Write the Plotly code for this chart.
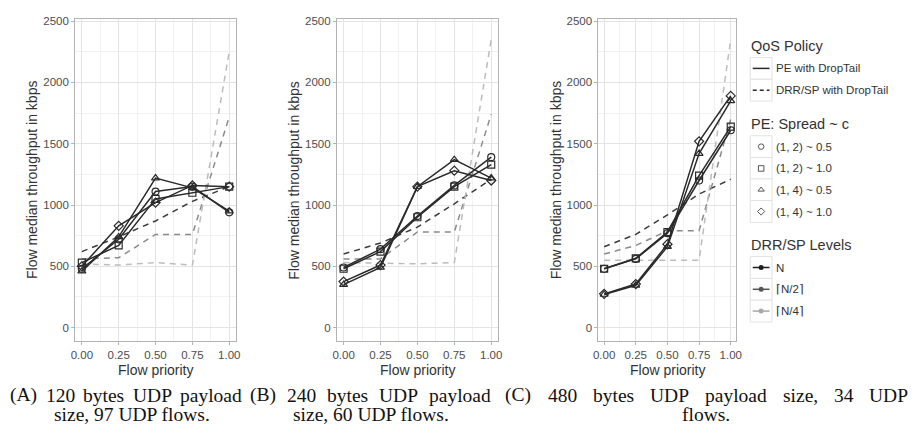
import plotly.graph_objects as go

# ---------------- data ----------------
priority = [0.0, 0.25, 0.5, 0.75, 1.0]
x_ticktext = ["0.00", "0.25", "0.50", "0.75", "1.00"]
y_tickvals = [0, 500, 1000, 1500, 2000, 2500]
y_ticktext = ["0", "500", "1000", "1500", "2000", "2500"]

pe_labels = ["(1, 2) ~ 0.5", "(1, 2) ~ 1.0", "(1, 4) ~ 0.5", "(1, 4) ~ 1.0"]
drr_labels = ["N", "\u2308N/2\u2309", "\u2308N/4\u2309"]
policy_labels = ["PE with DropTail", "DRR/SP with DropTail"]

# panel A: 120 bytes, 97 flows
a_pe_12_05 = [480, 720, 1110, 1150, 940]
a_pe_12_10 = [530, 670, 1050, 1100, 1150]
a_pe_14_05 = [460, 740, 1220, 1140, 950]
a_pe_14_10 = [500, 830, 1020, 1160, 1150]
a_drr_n = [620, 740, 870, 1030, 1150]
a_drr_n2 = [560, 570, 760, 760, 1720]
a_drr_n4 = [520, 510, 530, 510, 2250]

# panel B: 240 bytes, 60 flows
b_pe_12_05 = [490, 640, 910, 1160, 1390]
b_pe_12_10 = [480, 620, 900, 1150, 1330]
b_pe_14_05 = [350, 490, 1150, 1370, 1220]
b_pe_14_10 = [375, 510, 1150, 1280, 1200]
b_drr_n = [600, 690, 820, 1010, 1210]
b_drr_n2 = [560, 560, 780, 780, 1740]
b_drr_n4 = [530, 525, 520, 530, 2350]

# panel C: 480 bytes, 34 flows
c_pe_12_05 = [480, 560, 770, 1200, 1610]
c_pe_12_10 = [480, 565, 780, 1240, 1640]
c_pe_14_05 = [270, 345, 660, 1420, 1850]
c_pe_14_10 = [275, 355, 680, 1520, 1890]
c_drr_n = [660, 760, 920, 1090, 1210]
c_drr_n2 = [600, 670, 790, 790, 1700]
c_drr_n4 = [550, 550, 550, 550, 2350]

captions_line1 = ["(A) 120 bytes UDP payload", "(B) 240 bytes UDP payload",
                  "(C) 480 bytes UDP payload size, 34 UDP"]
captions_line2 = ["size, 97 UDP flows.", "size, 60 UDP flows.", "flows."]

# ---------------- styling ----------------
W, H = 916, 425
def px(x): return x / W
def py(y): return 1 - y / H

pe_symbols = ["circle-open", "square-open", "triangle-up-open", "diamond-open"]
drr_colors = ["#3c3c3c", "#8a8a8a", "#bcbcbc"]
pe_color = "#2a2a2a"
sans = "Liberation Sans, Arial, sans-serif"
serif = "Liberation Serif, Times New Roman, serif"

panel_px = [(71.0, 233.4), (335.6, 498.3), (600.0, 739.5)]
top_px, bot_px = 15.0, 340.0
x_range = [-0.045, 1.045]
y_range = [-108, 2519]

panels = [
    ([a_pe_12_05, a_pe_12_10, a_pe_14_05, a_pe_14_10], [a_drr_n, a_drr_n2, a_drr_n4]),
    ([b_pe_12_05, b_pe_12_10, b_pe_14_05, b_pe_14_10], [b_drr_n, b_drr_n2, b_drr_n4]),
    ([c_pe_12_05, c_pe_12_10, c_pe_14_05, c_pe_14_10], [c_drr_n, c_drr_n2, c_drr_n4]),
]

fig = go.Figure()
layout = dict(width=W, height=H, margin=dict(l=0, r=0, t=0, b=0),
              paper_bgcolor="white", plot_bgcolor="rgba(0,0,0,0)",
              showlegend=False, font=dict(family=sans, color="#333333"))
annotations = []
shapes = []

for i, (pe_sets, drr_sets) in enumerate(panels):
    n = "" if i == 0 else str(i + 1)
    xa, ya = "x" + n, "y" + n
    for vals, col in zip(drr_sets, drr_colors):
        fig.add_trace(go.Scatter(x=priority, y=vals, mode="lines", xaxis=xa, yaxis=ya,
                                 line=dict(color=col, width=1.5, dash="6px,5px")))
    for vals, sym in zip(pe_sets, pe_symbols):
        fig.add_trace(go.Scatter(x=priority, y=vals, mode="lines+markers", xaxis=xa, yaxis=ya,
                                 line=dict(color=pe_color, width=1.5),
                                 marker=dict(symbol=sym, size=7, color=pe_color,
                                             line=dict(width=1.2, color=pe_color))))
    x0, x1 = panel_px[i]
    common = dict(showline=True, mirror=True, linecolor="#b3b3b3", linewidth=1,
                  ticks="outside", ticklen=3, tickcolor="#b3b3b3", zeroline=False,
                  showgrid=True, gridcolor="#e4e4e4", gridwidth=1,
                  tickfont=dict(family=sans, size=11.5, color="#4d4d4d"), fixedrange=True)
    layout["xaxis" + n] = dict(domain=[px(x0), px(x1)], range=x_range, anchor=ya,
                               tickvals=priority, ticktext=x_ticktext,
                               minor=dict(dtick=0.125, tick0=0, showgrid=True,
                                          gridcolor="#f1f1f1", gridwidth=1), **common)
    layout["yaxis" + n] = dict(domain=[py(bot_px), py(top_px)], range=y_range, anchor=xa,
                               tickvals=y_tickvals, ticktext=y_ticktext,
                               minor=dict(dtick=250, tick0=0, showgrid=True,
                                          gridcolor="#f1f1f1", gridwidth=1), **common)
    # axis titles
    annotations.append(dict(xref="paper", yref="paper", x=px(x0 - 43), y=py(178),
                            text="Flow median throughput in kbps", textangle=-90,
                            showarrow=False, font=dict(family=sans, size=14, color="#333333"),
                            xanchor="center", yanchor="middle"))
    annotations.append(dict(xref="paper", yref="paper", x=px((x0 + x1) / 2), y=py(369),
                            text="Flow priority", showarrow=False,
                            font=dict(family=sans, size=14, color="#333333"),
                            xanchor="center", yanchor="middle"))

# ---------------- captions (justified first line) ----------------
tw = {' ': .25, '(': .333, ')': .333, 'A': .722, 'B': .667, 'C': .667, 'D': .722,
      'P': .556, 'U': .722, ',': .25, '.': .25, 'a': .444, 'b': .5, 'd': .5, 'e': .444,
      'f': .333, 'i': .278, 'l': .278, 'o': .5, 'p': .5, 's': .389, 't': .278, 'w': .722,
      'y': .5, 'z': .444}
cap_size = 19.5
def wlen(s):
    return sum(tw.get(c, 0.5) for c in s) * cap_size

cap_spans = [(4, 238), (247, 489), (505, 912)]
cap_centers = [128, 370, 709]
for line, (x0, x1) in zip(captions_line1, cap_spans):
    words = line.split(" ")
    widths = [wlen(w) for w in words]
    gap = (x1 - x0 - sum(widths)) / (len(words) - 1)
    x = x0
    for w, wd in zip(words, widths):
        annotations.append(dict(xref="paper", yref="paper", x=px(x), y=py(395), text=w,
                                showarrow=False, xanchor="left", yanchor="middle",
                                borderpad=0, font=dict(family=serif, size=cap_size, color="#111111")))
        x += wd + gap
for line, cx in zip(captions_line2, cap_centers):
    annotations.append(dict(xref="paper", yref="paper", x=px(cx), y=py(414), text=line,
                            showarrow=False, xanchor="center", yanchor="middle", borderpad=0,
                            font=dict(family=serif, size=cap_size, color="#111111")))

# ---------------- manual legend (pixel overlay axis) ----------------
layout["xaxis4"] = dict(domain=[0, 1], range=[0, W], visible=False, fixedrange=True, anchor="y4")
layout["yaxis4"] = dict(domain=[0, 1], range=[H, 0], visible=False, fixedrange=True, anchor="x4")

kx0, kx1 = 753.5, 775.5
tx = 778
def legend_title(text, y):
    annotations.append(dict(xref="x4", yref="y4", x=753, y=y, text=text, showarrow=False,
                            xanchor="left", yanchor="middle", borderpad=0,
                            font=dict(family=sans, size=14.5, color="#333333")))
def legend_text(text, y):
    annotations.append(dict(xref="x4", yref="y4", x=tx, y=y, text=text, showarrow=False,
                            xanchor="left", yanchor="middle", borderpad=0,
                            font=dict(family=sans, size=11.5, color="#333333")))
def key_box(y):
    shapes.append(dict(type="rect", xref="x4", yref="y4", x0=kx0, x1=kx1, y0=y - 11, y1=y + 11,
                       line=dict(color="#e2e2e2", width=1), fillcolor="white", layer="below"))

legend_title("QoS Policy", 42)
for j, (lab, dash) in enumerate(zip(policy_labels, ["solid", "4px,3px"])):
    y = 65 + 22 * j
    key_box(y)
    shapes.append(dict(type="line", xref="x4", yref="y4", x0=kx0 + 2.5, x1=kx1 - 2.5, y0=y, y1=y,
                       line=dict(color=pe_color, width=1.5, dash=dash)))
    legend_text(lab, y)

legend_title("PE: Spread ~ c", 121.5)
pe_key_y = [144, 166, 187.5, 209.5]
for y in pe_key_y:
    key_box(y)
for lab, y in zip(pe_labels, pe_key_y):
    legend_text(lab, y)
fig.add_trace(go.Scatter(x=[(kx0 + kx1) / 2] * 4, y=pe_key_y, mode="markers", xaxis="x4", yaxis="y4",
                         marker=dict(symbol=pe_symbols, size=5.5, color="#555555",
                                     line=dict(width=1, color="#555555")), hoverinfo="skip"))

legend_title("DRR/SP Levels", 243.5)
drr_key_y = [266, 288, 310]
for y in drr_key_y:
    key_box(y)
for lab, y, col in zip(drr_labels, drr_key_y, ["#1e1e1e", "#555555", "#a8a8a8"]):
    shapes.append(dict(type="line", xref="x4", yref="y4", x0=kx0 + 2.5, x1=kx1 - 2.5, y0=y, y1=y,
                       line=dict(color=col, width=1.5)))
    legend_text(lab, y)
fig.add_trace(go.Scatter(x=[(kx0 + kx1) / 2] * 3, y=drr_key_y, mode="markers", xaxis="x4", yaxis="y4",
                         marker=dict(symbol="circle", size=5, color=["#1e1e1e", "#555555", "#a8a8a8"]),
                         hoverinfo="skip"))

layout["annotations"] = annotations
layout["shapes"] = shapes
fig.update_layout(**layout)
fig.write_html("out.html", config={"displayModeBar": False},
               post_script="document.body.style.margin='0';document.body.style.overflow='hidden';")
